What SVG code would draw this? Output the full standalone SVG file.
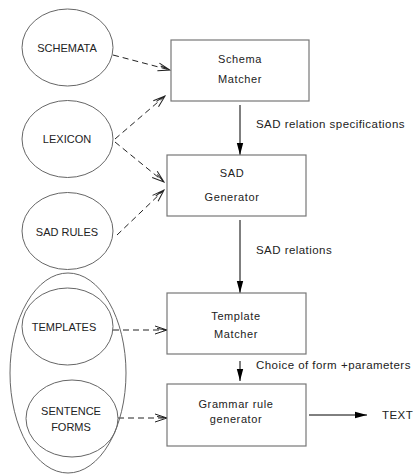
<svg xmlns="http://www.w3.org/2000/svg" width="414" height="474" viewBox="0 0 414 474">
<style>
.ell{fill:none;stroke:#666;stroke-width:1}
.box{fill:#fff;stroke:#777;stroke-width:1.2}
.t{font-family:"Liberation Sans",Arial,sans-serif;font-size:11px;fill:#222;text-anchor:middle;dominant-baseline:central}
.b{font-family:"Liberation Sans",Arial,sans-serif;font-size:11px;fill:#222;text-anchor:middle;dominant-baseline:central;letter-spacing:0.6px}
.l{font-family:"Liberation Sans",Arial,sans-serif;font-size:11.5px;fill:#222;dominant-baseline:central;letter-spacing:0.45px}
.solid{stroke:#000;stroke-width:1;fill:none}
.dash{stroke:#222;stroke-width:1;fill:none;stroke-dasharray:6,4}
</style>
<defs>
<marker id="fill" markerWidth="12" markerHeight="8" refX="12" refY="4" orient="auto" markerUnits="userSpaceOnUse">
<path d="M0,0.8 L12,4 L0,7.2 Z" fill="#000"/>
</marker>
<marker id="open" markerWidth="14" markerHeight="10" refX="13" refY="5" orient="auto" markerUnits="userSpaceOnUse">
<path d="M1,1 L13,5 L1,9 M3,3.5 L13,5" fill="none" stroke="#222" stroke-width="1"/>
</marker>
</defs>
<rect width="414" height="474" fill="#fff"/>
<g id="connectors">
<path class="dash" d="M113,55 L170,70" marker-end="url(#open)"/>
<path class="dash" d="M115,139 L165,96" marker-end="url(#open)"/>
<path class="dash" d="M115,142 L164,182" marker-end="url(#open)"/>
<path class="dash" d="M117,235 L164,190" marker-end="url(#open)"/>
<path class="dash" d="M113,330 L167,330" marker-end="url(#open)"/>
<path class="dash" d="M118,418 L167,418" marker-end="url(#open)"/>
<path class="solid" d="M240,105 L240,155" marker-end="url(#fill)"/>
<path class="solid" d="M240,220 L240,293" marker-end="url(#fill)"/>
<path class="solid" d="M240,361 L240,381" marker-end="url(#fill)"/>
<path class="solid" d="M309,415 L367,415" marker-end="url(#fill)"/>
<text class="l" x="256" y="124">SAD relation specifications</text>
<text class="l" x="256" y="250">SAD relations</text>
<text class="l" x="256" y="365">Choice of form</text>
<text class="l" x="341" y="365">+parameters</text>
</g>
<g id="outer"><ellipse class="ell" cx="68" cy="373" rx="58" ry="100"/></g>
<g id="schemata"><ellipse class="ell" cx="67.5" cy="47.5" rx="45.5" ry="38.5"/><text class="t" x="67" y="48">SCHEMATA</text></g>
<g id="lexicon"><ellipse class="ell" cx="67.5" cy="139" rx="45.5" ry="38.5"/><text class="t" x="67" y="139">LEXICON</text></g>
<g id="sadrules"><ellipse class="ell" cx="67.5" cy="231" rx="45.5" ry="38.5"/><text class="t" x="67" y="232">SAD RULES</text></g>
<g id="templates"><ellipse class="ell" cx="67.5" cy="326.5" rx="45.5" ry="38.5"/><text class="t" x="64" y="327">TEMPLATES</text></g>
<g id="sentenceforms"><ellipse class="ell" cx="72" cy="418.5" rx="46" ry="38.5"/><text class="t" x="71" y="411">SENTENCE</text><text class="t" x="71" y="427">FORMS</text></g>
<g id="schemamatcher"><rect class="box" x="171" y="40" width="138" height="61"/><text class="b" x="240" y="59">Schema</text><text class="b" x="240" y="79">Matcher</text></g>
<g id="sadgenerator"><rect class="box" x="167" y="155" width="139" height="61"/><text class="b" x="232" y="173">SAD</text><text class="b" x="232" y="197">Generator</text></g>
<g id="templatematcher"><rect class="box" x="167" y="293" width="139" height="61"/><text class="b" x="236" y="316">Template</text><text class="b" x="236" y="334">Matcher</text></g>
<g id="grammar"><rect class="box" x="167" y="384" width="139" height="62"/><text class="b" x="236" y="404">Grammar rule</text><text class="b" x="236" y="419">generator</text></g>
<g id="text"><text class="l" x="382" y="415">TEXT</text></g>
</svg>
